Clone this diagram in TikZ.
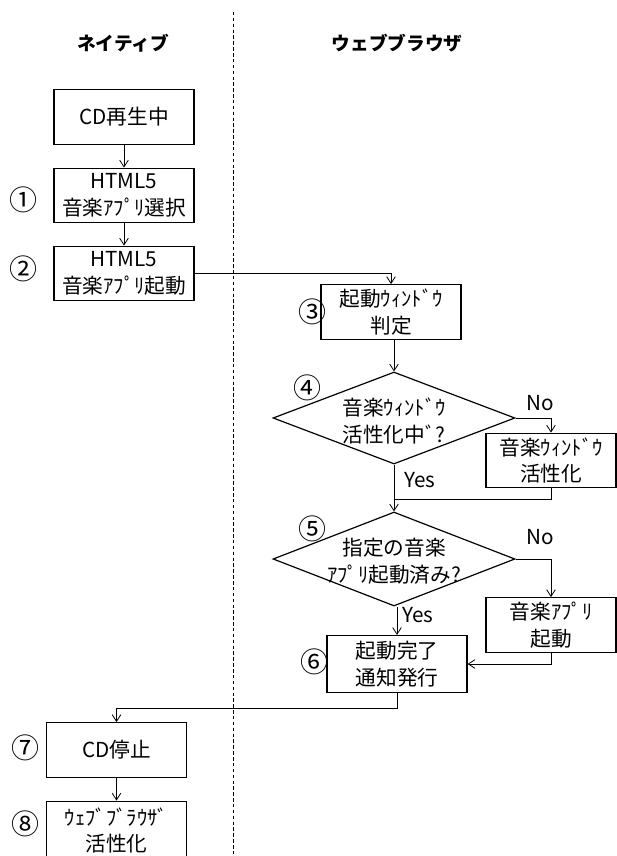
\documentclass[tikz,border=0pt]{standalone}
\usepackage{fontspec}
\setmainfont{Noto Sans CJK JP}
\usetikzlibrary{shapes.geometric,arrows.meta}

\tikzset{
  doboz/.style={draw,line width=0.9pt,minimum width=105pt,minimum height=41pt,inner sep=0.75pt,align=center,font=\fontsize{15.5}{20}\selectfont},
  jdoboz/.style={doboz,minimum width=97.5pt},
  rombusz/.style={draw,diamond,line width=0.9pt,inner sep=0pt,minimum width=181.5pt,minimum height=70pt},
  felirat/.style={inner sep=0.75pt,align=center,font=\fontsize{15.5}{20}\selectfont},
  fejlec/.style={inner sep=0.75pt,font=\fontsize{14}{16}\selectfont\bfseries},
  szam/.style={inner sep=0.75pt,font=\fontsize{21}{22}\selectfont},
  nyil/.style={line width=0.6pt,-{Straight Barb[length=5pt,width=6.5pt]}},
  vonal/.style={line width=0.6pt}
}

\begin{document}
\begin{tikzpicture}[x=0.75pt,y=0.75pt,yscale=-1,xscale=1]
\useasboundingbox (0,0) rectangle (617,856);

%=====Oszlopok=======
\draw [line width=0.6pt,dash pattern={on 2.6pt off 1.8pt}] (233,12) -- (233,870);
\node [fejlec] (hNative) at (123,43) {ネイティブ};
\node [fejlec] (hBrowser) at (397,43) {ウェブブラウザ};

%=====Dobozok=======
\node [doboz] (cdPlay) at (124,117) {CD再生中};
\node [doboz] (selApp) at (124,195.5) {HTML5\\音楽ｱﾌﾟﾘ選択};
\node [doboz] (bootApp) at (124,273.5) {HTML5\\音楽ｱﾌﾟﾘ起動};
\node [doboz] (winJudge) at (391,312) {起動ｳｨﾝﾄﾞｳ\\判定};
\node [rombusz,minimum height=69pt] (d4) at (394,418) {};
\node [felirat] (d4t) at (394,421) {音楽ｳｨﾝﾄﾞｳ\\活性化中ﾞ?};
\node [jdoboz] (actWin) at (551,460.5) {音楽ｳｨﾝﾄﾞｳ\\活性化};
\node [rombusz,minimum height=70.5pt] (d5) at (394,559) {};
\node [felirat] (d5t) at (394,561) {指定の音楽\\ｱﾌﾟﾘ起動済み?};
\node [jdoboz] (bootMusic) at (551,625) {音楽ｱﾌﾟﾘ\\起動};
\node [doboz,minimum height=42.75pt] (notify) at (397,664) {起動完了\\通知発行};
\node [doboz] (cdStop) at (116.5,750) {CD停止};
\node [doboz,minimum height=44pt] (actBrowser) at (116.5,830.5) {ｳｪﾌﾞﾌﾞﾗｳｻﾞ\\活性化};

%=====Sorszamok=======
\node [szam] (n1) at (23,200) {①};
\node [szam] (n2) at (23,269) {②};
\node [szam] (n3) at (312,312) {③};
\node [szam] (n4) at (307,388) {④};
\node [szam] (n5) at (312,529) {⑤};
\node [szam] (n6) at (314,662) {⑥};
\node [szam] (n7) at (26,748) {⑦};
\node [szam] (n8) at (26,824) {⑧};

%=====Nyilak=======
\coordinate (j4) at (394,499);
\coordinate (j6) at (0,708);

\draw [nyil] (cdPlay) -- (selApp);
\draw [nyil] (selApp) -- (bootApp);
\draw [nyil] (bootApp.east) -| (winJudge.north);
\draw [nyil] (winJudge.south -| d4.north) -- (d4.north);
\draw [nyil] (d4.east) -| (actWin.north);
\draw [vonal] (actWin.south) |- (j4);
\draw [nyil] (d4.south) -- (d5.north);
\draw [nyil] (d5.east) -| (bootMusic.north);
\draw [nyil] (d5.south -| notify.north) -- (notify.north);
\draw [nyil] (bootMusic.south) |- (notify.east);
\draw [nyil] (notify.south) |- (cdStop.north |- j6) -- (cdStop.north);
\draw [nyil] (cdStop) -- (actBrowser);

%=====Felirat=========
\node [felirat] (no4) at (540,403) {No};
\node [felirat] (yes4) at (420,480) {Yes};
\node [felirat] (no5) at (540,537) {No};
\node [felirat] (yes5) at (418,615) {Yes};

\end{tikzpicture}
\end{document}
